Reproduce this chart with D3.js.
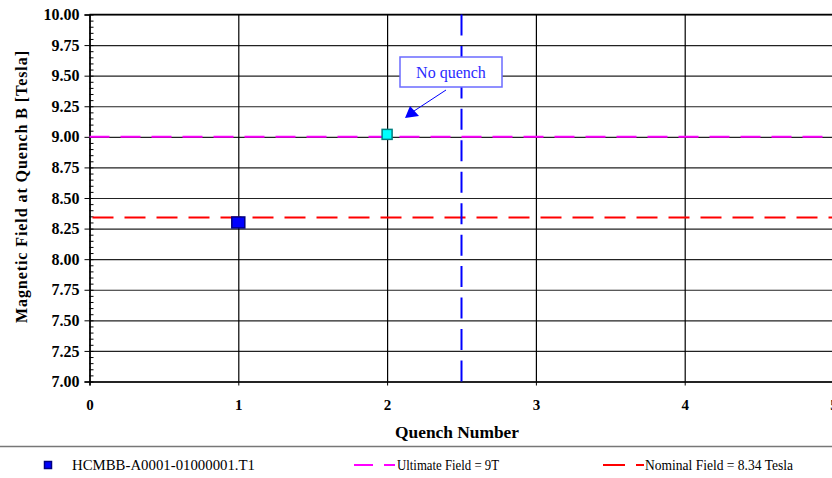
<!DOCTYPE html>
<html><head><meta charset="utf-8">
<script src="https://cdn.jsdelivr.net/npm/d3@7"></script>
<style>
body{margin:0;background:#fff;}
svg{display:block;}
svg text{font-family:"Liberation Serif","DejaVu Serif","Times New Roman",serif;}
</style></head>
<body><svg id="c" width="832" height="478"></svg>
<script>
// ---- data ----
const quenchNumbers = [1, 2];
const quenchFields = [8.30, 9.02];
const yMajorTicks = [7.00, 7.25, 7.50, 7.75, 8.00, 8.25, 8.50, 8.75, 9.00, 9.25, 9.50, 9.75, 10.00];
const xTicks = [0, 1, 2, 3, 4, 5];
const ultimateField = 9.0;
const nominalField = 8.34;
const separatorQuench = 2.5;
const legendLabels = ["HCMBB-A0001-01000001.T1", "Ultimate Field = 9T", "Nominal Field = 8.34 Tesla"];
const annotationText = "No quench";
const xTitle = "Quench Number";
const yTitle = "Magnetic Field at Quench B [Tesla]";

// ---- layout ----
const svg = d3.select("#c");
const pL = 89.5, pR = 833.5, pT = 14.5, pB = 381.5;
const x = d3.scaleLinear().domain([0, 5]).range([pL, pR]);
const y = d3.scaleLinear().domain([7, 10]).range([pB, pT]);
const yMinor = d3.range(7, 10.001, 0.05).map(v => +v.toFixed(2));

// horizontal grid
svg.append("g").attr("transform", `translate(${pL},0)`)
  .call(d3.axisLeft(y).tickValues(yMajorTicks).tickSize(-(pR - pL)).tickFormat(""))
  .call(g => g.select(".domain").remove())
  .call(g => g.selectAll("line").attr("stroke", "#222").attr("stroke-width", 1.2));
// vertical grid
svg.append("g").attr("transform", `translate(0,${pB})`)
  .call(d3.axisBottom(x).tickValues(xTicks).tickSize(-(pB - pT)).tickFormat(""))
  .call(g => g.select(".domain").remove())
  .call(g => g.selectAll("line").attr("stroke", "#000").attr("stroke-width", 1.2));

// minor ticks inside
svg.append("g").attr("transform", `translate(${pL},0)`)
  .call(d3.axisRight(y).tickValues(yMinor).tickSize(4).tickFormat(""))
  .call(g => g.select(".domain").remove())
  .call(g => g.selectAll("line").attr("stroke", "#000"));

// y axis
svg.append("g").attr("transform", `translate(${pL},0)`)
  .call(d3.axisLeft(y).tickValues(yMajorTicks).tickSize(5).tickPadding(5).tickFormat(d3.format(".2f")))
  .call(g => g.attr("font-family", null))
  .call(g => g.select(".domain").attr("stroke", "#000").attr("stroke-width", 1.5))
  .call(g => g.selectAll("text").attr("font-weight", "bold").attr("font-size", 16).attr("fill", "#000"));

// x axis
svg.append("g").attr("transform", `translate(0,${pB})`)
  .call(d3.axisBottom(x).tickValues(xTicks).tickSize(4).tickPadding(14).tickFormat(d3.format("d")))
  .call(g => g.attr("font-family", null))
  .call(g => g.select(".domain").attr("stroke", "#000").attr("stroke-width", 1.5))
  .call(g => g.selectAll("text").attr("font-weight", "bold").attr("font-size", 15).attr("fill", "#000"));

// top border
svg.append("line").attr("x1", pL).attr("x2", pR).attr("y1", y(10)).attr("y2", y(10))
  .attr("stroke", "#000").attr("stroke-width", 1.5);

// reference lines
svg.append("line").attr("x1", pL).attr("x2", pR).attr("y1", y(ultimateField)).attr("y2", y(ultimateField))
  .attr("stroke", "#ff00ff").attr("stroke-width", 2).attr("stroke-dasharray", "20,11");
svg.append("line").attr("x1", pL).attr("x2", pR).attr("y1", y(nominalField)).attr("y2", y(nominalField))
  .attr("stroke", "#ff0000").attr("stroke-width", 2).attr("stroke-dasharray", "21,11").attr("stroke-dashoffset", -3);
svg.append("line").attr("x1", x(separatorQuench)).attr("x2", x(separatorQuench)).attr("y1", y(10)).attr("y2", y(7))
  .attr("stroke", "#0000ff").attr("stroke-width", 2).attr("stroke-dasharray", "21,10.45");

// points
const marks = [
  {w: 13, h: 11, fill: "#0000ff", stroke: "#000080"},
  {w: 10, h: 10, fill: "#00ffff", stroke: "#008080"}
];
svg.append("g").selectAll("rect").data(quenchNumbers).join("rect")
  .attr("x", (d, i) => x(d) - marks[i].w / 2)
  .attr("y", (d, i) => y(quenchFields[i]) - marks[i].h / 2)
  .attr("width", (d, i) => marks[i].w).attr("height", (d, i) => marks[i].h)
  .attr("fill", (d, i) => marks[i].fill).attr("stroke", (d, i) => marks[i].stroke).attr("stroke-width", 1.5);

// annotation
const ann = svg.append("g");
ann.append("rect").attr("x", 400).attr("y", 57).attr("width", 102).attr("height", 30)
  .attr("fill", "#fff").attr("stroke", "#6b6bff").attr("stroke-width", 1.5);
ann.append("text").attr("x", 451).attr("y", 78).attr("text-anchor", "middle")
  .attr("font-size", 16).attr("fill", "#2a2aff").text(annotationText);
ann.append("line").attr("x1", 446).attr("y1", 90).attr("x2", 414).attr("y2", 111)
  .attr("stroke", "#0000ff").attr("stroke-width", 1);
ann.append("path").attr("d", "M405,118 L410,106 L419,116 Z").attr("fill", "#0000ff");

// legend separator
svg.append("line").attr("x1", 0).attr("x2", 832).attr("y1", 446.5).attr("y2", 446.5)
  .attr("stroke", "#777").attr("stroke-width", 1.5);

// legend
const lg = svg.append("g").attr("font-size", 14).attr("fill", "#000");
lg.append("rect").attr("x", 44.5).attr("y", 461.5).attr("width", 7).attr("height", 7)
  .attr("fill", "#0000ff").attr("stroke", "#000080").attr("stroke-width", 1.5);
lg.append("text").attr("x", 72).attr("y", 470).attr("textLength", 183).attr("lengthAdjust", "spacingAndGlyphs").text(legendLabels[0]);
lg.append("line").attr("x1", 354).attr("x2", 395).attr("y1", 465).attr("y2", 465)
  .attr("stroke", "#ff00ff").attr("stroke-width", 2).attr("stroke-dasharray", "19,11");
lg.append("text").attr("x", 397).attr("y", 470).attr("textLength", 102).attr("lengthAdjust", "spacingAndGlyphs").text(legendLabels[1]);
lg.append("line").attr("x1", 603).attr("x2", 644).attr("y1", 465).attr("y2", 465)
  .attr("stroke", "#ff0000").attr("stroke-width", 2).attr("stroke-dasharray", "22,11");
lg.append("text").attr("x", 645).attr("y", 470).attr("textLength", 148).attr("lengthAdjust", "spacingAndGlyphs").text(legendLabels[2]);

// titles
svg.append("text").attr("x", 457).attr("y", 438).attr("text-anchor", "middle")
  .attr("font-weight", "bold").attr("font-size", 17).attr("textLength", 124).attr("lengthAdjust", "spacingAndGlyphs").text(xTitle);
svg.append("text").attr("transform", "translate(27,187) rotate(-90)").attr("text-anchor", "middle")
  .attr("font-weight", "bold").attr("font-size", 16).attr("textLength", 272).attr("lengthAdjust", "spacing").text(yTitle);
</script></body></html>
